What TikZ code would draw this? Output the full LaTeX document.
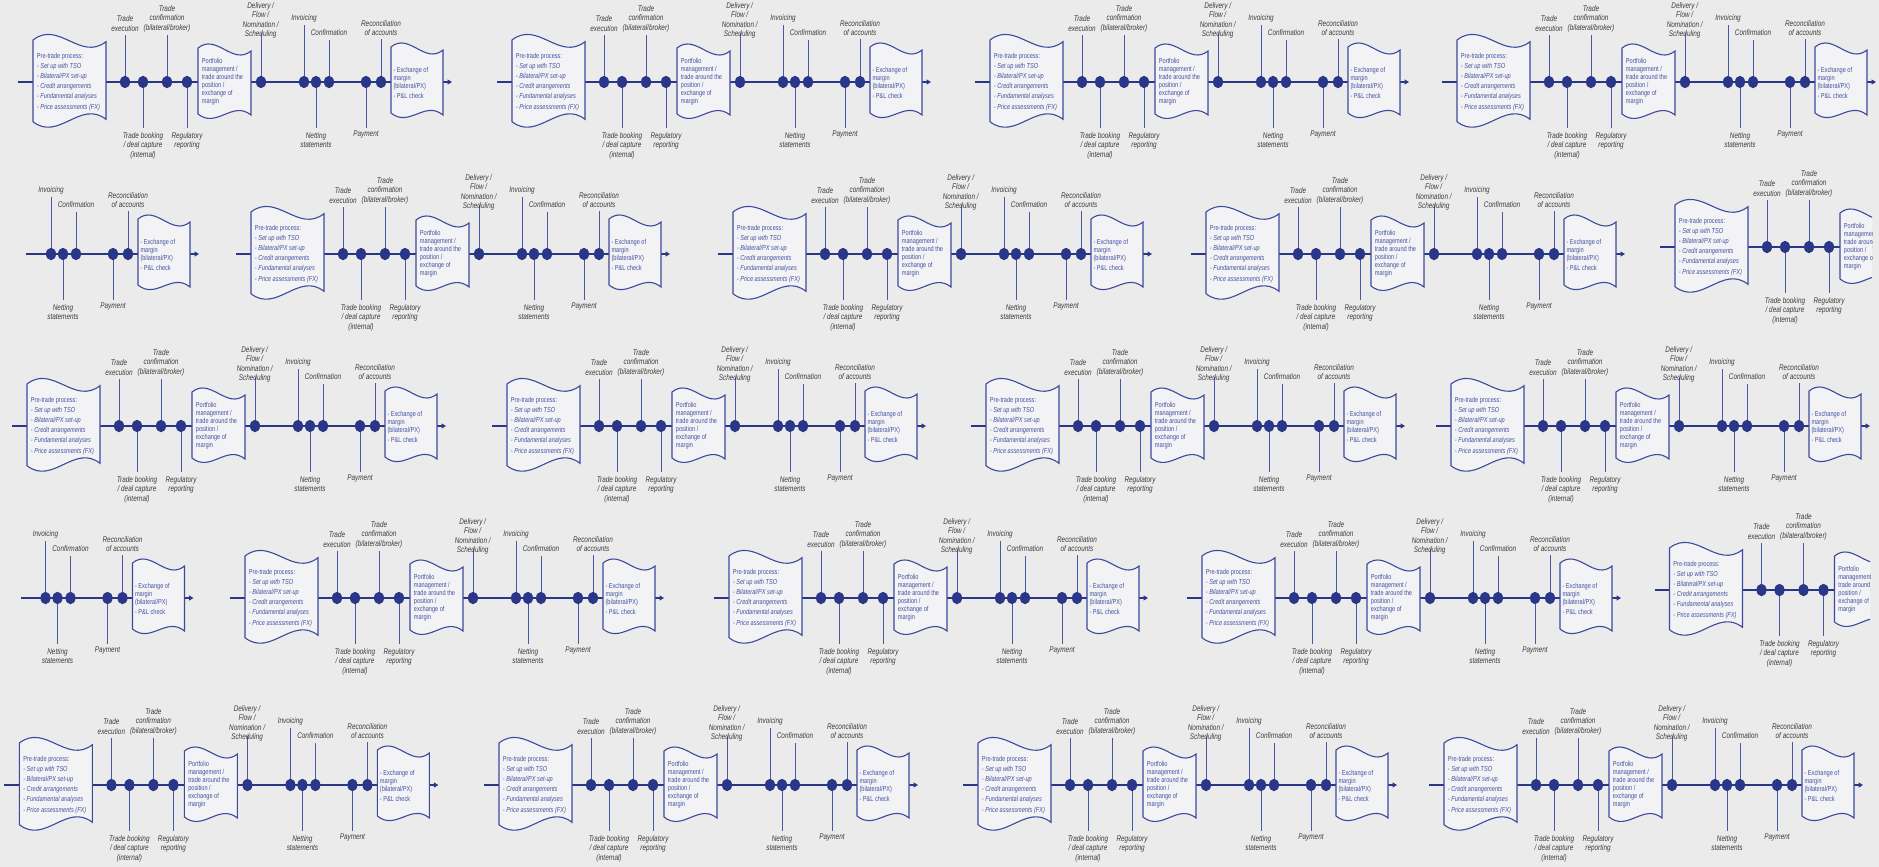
\documentclass[tikz,border=0pt]{standalone}
\usepackage{fontspec}
\newfontfamily\lblfont[FakeStretch=0.78]{Liberation Sans}
\usetikzlibrary{arrows.meta,shapes.geometric}
\definecolor{bg}{HTML}{EBEBEB}
\definecolor{navy}{HTML}{2A3688}
\definecolor{stemc}{HTML}{4A58A4}
\definecolor{boxline}{HTML}{3C4A9C}
\definecolor{boxfill}{HTML}{F3F3F5}
\definecolor{boxtext}{HTML}{4352A2}
\definecolor{lbltext}{HTML}{3C3C3C}
\tikzset{
  mainline/.style={draw=navy, line width=2pt},
  stemline/.style={draw=stemc, line width=0.9pt},
  vdot/.style={ellipse, fill=navy, draw=none, minimum width=10pt, minimum height=12.5pt, inner sep=0pt},
  wbox/.style={draw=boxline, fill=boxfill, line width=1.1pt},
  lbl/.style={text=lbltext, font=\lblfont\itshape\fontsize{8.2}{9.3}\selectfont, align=center, inner sep=0pt},
  btxt/.style={text=boxtext, font=\lblfont\fontsize{7.2}{7.9}\selectfont, align=left, inner sep=0pt, anchor=west},
}
% L TL R TR BR BL a
\newcommand\wavebox[7]{%
  \path[wbox] (#1,#2) .. controls ({#1+0.35*(#3-#1)},{#2-#7}) and ({#1+0.65*(#3-#1)},{#4+#7}) .. (#3,#4)
    -- (#3,#5) .. controls ({#3-0.35*(#3-#1)},{#5-#7}) and ({#3-0.65*(#3-#1)},{#6+#7}) .. (#1,#6) -- cycle;}
% dot with stem: prefix, name, x, stem end y
\newcommand\vcdot[4]{%
  \node[vdot] (#1-#2) at (#3,0) {};
  \coordinate (#1-#2-t) at (#3,#4);
  \draw[stemline] (#1-#2) -- (#1-#2-t);}
\newcommand\vcunit[3]{%
\begin{scope}[shift={(#1,#2)}]
  \coordinate (#3-s) at (0,0);
  \coordinate (#3-e) at (434,0);
  \draw[mainline,-{Triangle[length=4.5pt,width=5pt]}] (#3-s) -- (#3-e);
  \wavebox{15}{-42}{88}{-40.3}{37.3}{39.7}{20}
  \wavebox{180}{-34}{233}{-31}{33}{32}{15}
  \wavebox{373}{-35}{425}{-32}{33}{31}{15}
  \node[btxt, font=\lblfont\fontsize{7.2}{10.2}\selectfont] (#3-pt) at (18.7,-0.3)
    {Pre-trade process:\\{\itshape - Set up with TSO}\\{\itshape - Bilateral/PX set-up}\\{\itshape - Credit arrangements}\\{\itshape - Fundamental analyses}\\{\itshape - Price assessments (FX)}};
  \node[btxt] (#3-pm) at (183.7,-0.6)
    {Portfolio\\management /\\trade around the\\position /\\exchange of\\margin};
  \node[btxt] (#3-ex) at (375.3,0.8)
    {- Exchange of\\margin\\(bilateral/PX)\\[2pt]- P\&L check};
  \vcdot{#3}{te}{107}{-47}
  \vcdot{#3}{tb}{125}{46}
  \vcdot{#3}{tc}{149}{-47}
  \vcdot{#3}{rr}{169}{46}
  \vcdot{#3}{dl}{243}{-49}
  \vcdot{#3}{inv}{286}{-57}
  \vcdot{#3}{net}{298}{46}
  \vcdot{#3}{cf}{311}{-42}
  \vcdot{#3}{pay}{348}{46}
  \vcdot{#3}{rec}{363}{-43}
  \node[lbl] (#3-te-l) at (107,-58.5) {Trade\\execution};
  \node[lbl] (#3-tb-l) at (125,63.7) {Trade booking\\/ deal capture\\(internal)};
  \node[lbl] (#3-tc-l) at (149,-63.2) {Trade\\confirmation\\(bilateral/broker)};
  \node[lbl] (#3-rr-l) at (169,58.8) {Regulatory\\reporting};
  \node[lbl] (#3-dl-l) at (242.7,-61.7) {Delivery /\\Flow /\\Nomination /\\Scheduling};
  \node[lbl] (#3-inv-l) at (286,-63.7) {Invoicing};
  \node[lbl] (#3-net-l) at (298,58) {Netting\\statements};
  \node[lbl] (#3-cf-l) at (311,-49.7) {Confirmation};
  \node[lbl] (#3-pay-l) at (348,52.3) {Payment};
  \node[lbl] (#3-rec-l) at (363,-54.2) {Reconciliation\\of accounts};
\end{scope}}
\begin{document}
\begin{tikzpicture}[x=1pt,y=-1pt]
\useasboundingbox (0,0) rectangle (1879,867);
\fill[bg] (0,0) rectangle (1879,867);
% row 1
\vcunit{18}{82}{ra1}
\vcunit{497}{82}{ra2}
\vcunit{975}{82}{ra3}
\vcunit{1442}{82}{ra4}
% row 2
\begin{scope}\clip (26,0) rectangle (1879,867); \vcunit{-235}{254}{rb1} \end{scope}
\vcunit{236}{254}{rb2}
\vcunit{718}{254}{rb3}
\vcunit{1191}{254}{rb4}
\begin{scope}\clip (0,0) rectangle (1872,867); \vcunit{1660}{247}{rb5} \end{scope}
% row 3
\vcunit{12}{426}{rc1}
\vcunit{492}{426}{rc2}
\vcunit{971}{426}{rc3}
\vcunit{1436}{426}{rc4}
% row 4
\begin{scope}\clip (21,0) rectangle (1879,867); \vcunit{-240.5}{598}{rd1} \end{scope}
\vcunit{230}{598}{rd2}
\vcunit{714}{598}{rd3}
\vcunit{1187}{598}{rd4}
\begin{scope}\clip (0,0) rectangle (1870,867); \vcunit{1654.5}{590}{rd5} \end{scope}
% row 5
\vcunit{4.4}{785}{re1}
\vcunit{484}{785}{re2}
\vcunit{963}{785}{re3}
\vcunit{1429}{785}{re4}
\end{tikzpicture}
\end{document}
